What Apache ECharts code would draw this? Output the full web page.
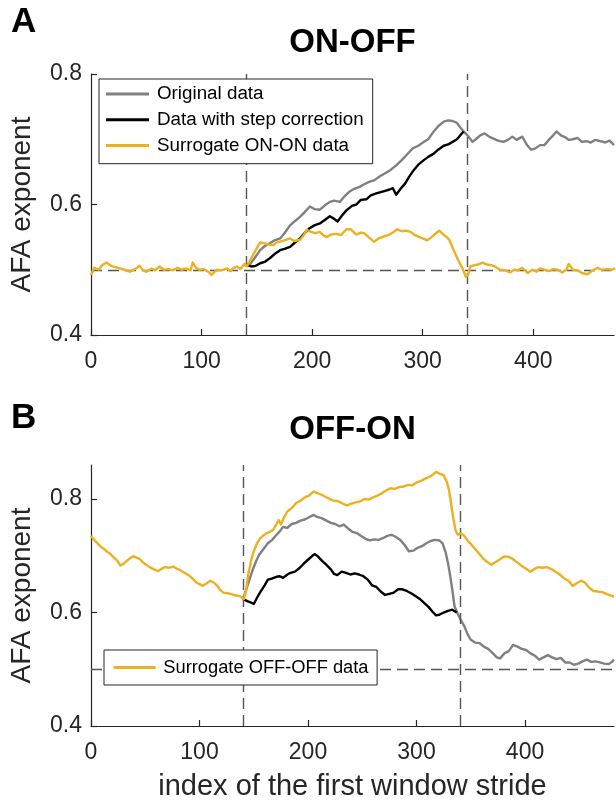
<!DOCTYPE html>
<html>
<head>
<meta charset="utf-8">
<script src="https://cdn.jsdelivr.net/npm/echarts@6/dist/echarts.min.js"></script>
<style>
html,body{margin:0;padding:0;background:#fff;}
#chart{width:616px;height:802px;}
</style>
</head>
<body>
<div id="chart"></div>
<script>
// ---------- tick labels ----------
var xTicks = [0, 100, 200, 300, 400];
var yTicks = [0.4, 0.6, 0.8];
var markX = [140, 340];
var markY = 0.5;

// ---------- Panel A (ON-OFF) ----------
var aSurX = [0,3,7,10,14,18,22,26,30,35,40,44,47,50,55,58,62,66,70,74,78,82,86,90,92,95,98,102,106,109,112,114,118,123,126,129,132,135,139,141,145,149,153,158,162,165,168,171,175,180,184,189,192,195,199,203,207,210,213,217,222,226,231,235,240,244,247,251,256,260,265,270,273,277,281,285,289,293,297,300,304,308,312,315,318,321,324,328,332,336,339,341,343,347,350,354,358,362,365,370,375,379,383,386,390,395,399,403,406,410,414,418,422,426,430,432,436,440,444,449,453,458,462,467,471,474];
var aSurY = [0.492,0.503,0.500,0.507,0.511,0.506,0.504,0.502,0.500,0.497,0.501,0.506,0.499,0.497,0.502,0.499,0.505,0.500,0.501,0.499,0.503,0.500,0.502,0.499,0.511,0.503,0.500,0.501,0.497,0.492,0.497,0.500,0.499,0.502,0.498,0.503,0.505,0.501,0.509,0.505,0.518,0.530,0.542,0.540,0.538,0.538,0.542,0.543,0.545,0.548,0.544,0.546,0.552,0.561,0.558,0.556,0.558,0.553,0.550,0.554,0.555,0.553,0.562,0.562,0.554,0.557,0.556,0.550,0.543,0.548,0.551,0.554,0.557,0.562,0.559,0.560,0.558,0.553,0.550,0.548,0.545,0.550,0.556,0.560,0.555,0.551,0.546,0.530,0.515,0.502,0.489,0.492,0.505,0.507,0.508,0.511,0.508,0.507,0.505,0.500,0.499,0.496,0.500,0.499,0.503,0.495,0.500,0.497,0.502,0.500,0.498,0.501,0.500,0.496,0.500,0.509,0.500,0.499,0.495,0.493,0.498,0.503,0.500,0.501,0.500,0.502];

var aOrigX = [140,144,148,153,157,162,166,171,175,180,184,189,193,198,202,207,211,216,220,225,229,234,238,243,247,252,256,261,266,271,276,281,286,291,296,301,305,310,314,319,323,327,331,334,337,341,345,348,352,356,360,364,368,373,377,381,385,390,394,398,402,406,410,414,418,421,425,429,432,436,440,444,448,452,456,461,465,469,473];
var aOrigY = [0.508,0.509,0.518,0.530,0.536,0.541,0.545,0.548,0.556,0.568,0.574,0.581,0.588,0.597,0.593,0.592,0.598,0.604,0.606,0.604,0.612,0.620,0.624,0.627,0.631,0.635,0.637,0.643,0.648,0.653,0.660,0.668,0.677,0.686,0.690,0.696,0.700,0.712,0.720,0.727,0.729,0.728,0.725,0.718,0.712,0.705,0.696,0.700,0.706,0.709,0.704,0.701,0.698,0.696,0.699,0.704,0.699,0.704,0.692,0.684,0.686,0.691,0.691,0.699,0.706,0.712,0.706,0.703,0.699,0.700,0.702,0.696,0.697,0.695,0.699,0.697,0.695,0.698,0.691];

var aStepX = [140,145,149,153,157,162,166,171,175,180,184,189,193,198,202,207,212,216,220,223,227,231,236,240,244,249,253,258,262,266,270,273,276,280,284,288,292,296,301,305,310,314,319,323,327,331,334,337];
var aStepY = [0.508,0.505,0.506,0.510,0.512,0.518,0.524,0.530,0.532,0.535,0.541,0.548,0.556,0.564,0.568,0.571,0.577,0.582,0.578,0.574,0.583,0.591,0.598,0.600,0.607,0.608,0.614,0.617,0.619,0.621,0.623,0.625,0.615,0.624,0.632,0.643,0.653,0.661,0.668,0.673,0.678,0.684,0.690,0.692,0.696,0.700,0.706,0.712];

// ---------- Panel B (OFF-ON) ----------
var bSurX = [0,3,6,9,12,15,18,21,24,27,30,33,36,39,42,45,48,51,54,58,62,65,68,72,76,79,82,86,90,93,97,100,103,107,110,113,116,119,122,126,130,134,137,141,143,145,148,150,153,156,159,162,165,168,171,173,175,178,181,185,189,193,197,201,205,208,212,216,220,224,228,232,236,240,244,248,252,256,260,264,268,272,276,280,284,288,292,296,300,304,308,312,315,318,321,325,328,330,332,334,336,338,341,344,347,350,354,358,362,366,369,373,377,381,385,389,393,397,401,405,408,412,416,420,424,428,432,436,440,444,448,452,455,459,463,467,471,475,479,482];
var bSurY = [0.735,0.728,0.722,0.716,0.712,0.707,0.703,0.697,0.692,0.683,0.686,0.691,0.696,0.699,0.697,0.694,0.688,0.684,0.680,0.676,0.673,0.677,0.680,0.679,0.681,0.677,0.675,0.670,0.666,0.661,0.653,0.650,0.647,0.652,0.656,0.653,0.648,0.640,0.635,0.634,0.632,0.630,0.629,0.624,0.640,0.668,0.695,0.708,0.722,0.731,0.736,0.740,0.742,0.746,0.756,0.763,0.755,0.768,0.778,0.784,0.793,0.797,0.803,0.806,0.813,0.811,0.808,0.804,0.800,0.797,0.796,0.792,0.789,0.792,0.794,0.796,0.800,0.799,0.803,0.806,0.810,0.815,0.819,0.818,0.821,0.822,0.825,0.824,0.829,0.832,0.836,0.839,0.843,0.848,0.845,0.842,0.830,0.815,0.790,0.765,0.745,0.737,0.740,0.735,0.727,0.721,0.712,0.703,0.694,0.688,0.684,0.689,0.694,0.699,0.698,0.694,0.688,0.682,0.677,0.672,0.676,0.680,0.679,0.680,0.677,0.672,0.667,0.660,0.656,0.647,0.652,0.656,0.653,0.644,0.638,0.637,0.636,0.633,0.630,0.628];

var bOrigX = [140,143,146,149,152,155,159,163,167,171,174,177,181,185,189,193,197,201,205,209,213,217,221,225,229,233,237,241,245,249,253,257,261,265,269,273,277,281,285,289,293,297,301,305,309,313,317,321,324,327,329,331,333,335,338,341,344,347,350,354,358,362,366,370,374,377,381,385,389,393,397,401,405,409,413,417,421,425,429,433,437,441,445,449,453,457,461,465,469,473,477,480,482];
var bOrigY = [0.624,0.640,0.658,0.675,0.690,0.702,0.712,0.722,0.728,0.737,0.743,0.751,0.749,0.756,0.758,0.762,0.764,0.768,0.772,0.768,0.766,0.762,0.758,0.756,0.752,0.755,0.748,0.742,0.740,0.735,0.730,0.727,0.729,0.728,0.731,0.735,0.737,0.733,0.728,0.719,0.708,0.709,0.714,0.717,0.722,0.726,0.728,0.727,0.722,0.705,0.687,0.665,0.640,0.611,0.598,0.586,0.576,0.562,0.552,0.547,0.546,0.540,0.536,0.529,0.521,0.519,0.528,0.532,0.543,0.540,0.536,0.534,0.528,0.524,0.517,0.521,0.525,0.521,0.518,0.520,0.512,0.512,0.508,0.510,0.514,0.517,0.513,0.514,0.512,0.510,0.509,0.513,0.517];

var bStepX = [140,144,147,150,153,156,160,163,167,171,174,177,181,184,188,192,196,200,204,206,209,213,217,221,224,227,231,235,239,243,247,251,255,259,263,267,271,275,279,283,287,291,295,299,303,307,311,315,318,321,325,329,333,337];
var bStepY = [0.624,0.620,0.618,0.615,0.626,0.636,0.648,0.658,0.660,0.663,0.664,0.661,0.667,0.670,0.672,0.678,0.686,0.693,0.700,0.703,0.699,0.691,0.684,0.676,0.668,0.666,0.672,0.670,0.667,0.669,0.667,0.664,0.658,0.648,0.645,0.637,0.631,0.633,0.635,0.641,0.641,0.638,0.634,0.629,0.624,0.617,0.610,0.601,0.595,0.596,0.600,0.603,0.605,0.600];

function pairs(xs, ys){ return xs.map(function(x,i){ return [x, ys[i]]; }); }

var FONT = "'Liberation Sans', Arial, Helvetica, sans-serif";
var AX = '#262626';
var GRAY = '#808080', BLACK = '#000000', YELLOW = '#EDB120';

function xAxisCfg(gi, max, withName){
  var c = {
    type:'value', gridIndex:gi, min:0, max:max,
    axisLine:{show:true, lineStyle:{color:AX, width:1.2}},
    axisTick:{show:true, inside:true, length:6, lineStyle:{color:AX, width:1.2}, customValues:xTicks},
    axisLabel:{show:true, margin:15, color:AX, fontSize:23, fontFamily:FONT, customValues:xTicks},
    splitLine:{show:false}
  };
  if (withName){
    c.name = 'index of the first window stride';
    c.nameLocation = 'middle';
    c.nameGap = 46;
    c.nameTextStyle = {fontSize:29, color:AX, fontFamily:FONT};
  }
  return c;
}
function yAxisCfg(gi, max){
  return {
    type:'value', gridIndex:gi, min:0.4, max:max,
    name:'AFA exponent', nameLocation:'middle', nameGap:55,
    nameTextStyle:{fontSize:28, color:AX, fontFamily:FONT},
    axisLine:{show:true, lineStyle:{color:AX, width:1.2}},
    axisTick:{show:true, inside:true, length:6, lineStyle:{color:AX, width:1.2}, customValues:yTicks},
    axisLabel:{show:true, margin:9, color:AX, fontSize:23, fontFamily:FONT, customValues:yTicks,
      formatter:function(v){ return v.toFixed(1); }},
    splitLine:{show:false}
  };
}
function lineSeries(name, gi, data, color, z){
  return {
    name:name, type:'line', xAxisIndex:gi, yAxisIndex:gi, data:data,
    showSymbol:false, symbol:'none', z:z,
    lineStyle:{color:color, width:2.4, join:'round'},
    itemStyle:{color:color},
    animation:false
  };
}
function markSeries(gi){
  return {
    type:'line', xAxisIndex:gi, yAxisIndex:gi, data:[], z:1, silent:true, animation:false,
    markLine:{
      silent:true, symbol:['none','none'], label:{show:false}, animation:false,
      lineStyle:{color:'#555555', width:1.4, type:[11,6]},
      emphasis:{disabled:true},
      data:[{xAxis:markX[0]},{xAxis:markX[1]},{yAxis:markY}]
    }
  };
}

var chart = echarts.init(document.getElementById('chart'), null, {renderer:'canvas'});
chart.setOption({
  backgroundColor:'#ffffff',
  animation:false,
  textStyle:{fontFamily:FONT},
  title:[
    {text:'A', left:11, top:5, padding:0, textAlign:'left', textStyle:{fontSize:35, fontWeight:'bold', color:'#000', fontFamily:FONT}},
    {text:'ON-OFF', left:352.5, top:26, padding:0, textAlign:'center', textStyle:{fontSize:33, fontWeight:'bold', color:'#000', fontFamily:FONT}},
    {text:'B', left:11, top:401, padding:0, textAlign:'left', textStyle:{fontSize:35, fontWeight:'bold', color:'#000', fontFamily:FONT}},
    {text:'OFF-ON', left:352.5, top:413, padding:0, textAlign:'center', textStyle:{fontSize:33, fontWeight:'bold', color:'#000', fontFamily:FONT}}
  ],
  grid:[
    {left:91, top:74, width:523, height:261, containLabel:false},
    {left:91, top:465, width:523, height:262, containLabel:false}
  ],
  xAxis:[xAxisCfg(0, 473, false), xAxisCfg(1, 482, true)],
  yAxis:[yAxisCfg(0, 0.8), yAxisCfg(1, 0.86)],
  legend:[
    {
      data:['Original data','Data with step correction','Surrogate ON-ON data'],
      orient:'vertical', left:99, top:79, z:10,
      icon:'rect', itemWidth:43, itemHeight:3, itemGap:6.7,
      padding:[5.5, 9, 8.8, 7],
      backgroundColor:'#ffffff', borderColor:AX, borderWidth:1, borderRadius:0,
      selectedMode:false,
      textStyle:{fontSize:18.8, lineHeight:19, color:'#000', fontFamily:FONT, padding:[0,0,0,3]}
    },
    {
      data:['Surrogate OFF-OFF data'],
      orient:'vertical', left:104, top:650, z:10,
      icon:'rect', itemWidth:42, itemHeight:3,
      padding:[8, 8.6, 8, 9.7],
      backgroundColor:'#ffffff', borderColor:AX, borderWidth:1, borderRadius:0,
      selectedMode:false,
      textStyle:{fontSize:18.3, lineHeight:19, color:'#000', fontFamily:FONT, padding:[0,0,0,2.6]}
    }
  ],
  series:[
    markSeries(0),
    lineSeries('Original data', 0, pairs(aOrigX, aOrigY), GRAY, 3),
    lineSeries('Data with step correction', 0, pairs(aStepX, aStepY), BLACK, 4),
    lineSeries('Surrogate ON-ON data', 0, pairs(aSurX, aSurY), YELLOW, 5),
    markSeries(1),
    lineSeries('Original data (B)', 1, pairs(bOrigX, bOrigY), GRAY, 3),
    lineSeries('Data with step correction (B)', 1, pairs(bStepX, bStepY), BLACK, 4),
    lineSeries('Surrogate OFF-OFF data', 1, pairs(bSurX, bSurY), YELLOW, 5)
  ]
});
</script>
</body>
</html>
